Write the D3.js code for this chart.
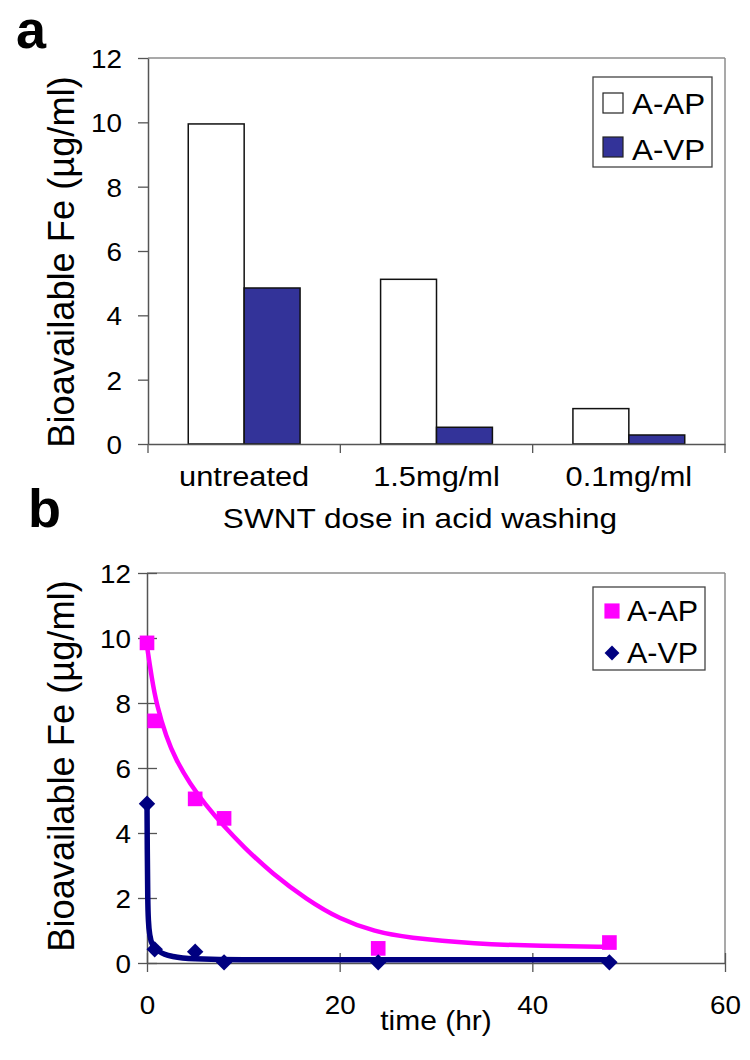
<!DOCTYPE html>
<html>
<head>
<meta charset="utf-8">
<script src="https://cdn.jsdelivr.net/npm/d3@7"></script>
<style>
  html, body { margin: 0; padding: 0; background: #fff; }
  svg { display: block; }
  text { font-family: "Liberation Sans", Arial, sans-serif; fill: #000; }
</style>
</head>
<body>
<svg id="chart" width="750" height="1060"></svg>
<script>
// ---------- DATA ----------
const categories = ["untreated", "1.5mg/ml", "0.1mg/ml"];
const seriesNames = ["A-AP", "A-VP"];
const barAP = [9.95, 5.12, 1.1];
const barVP = [4.85, 0.52, 0.28];
const yTicksA = [0, 2, 4, 6, 8, 10, 12];

const timeAP = [0, 0.8, 5, 8, 24, 48];
const valAP  = [9.85, 7.45, 5.05, 4.45, 0.45, 0.63];
const timeVP = [0, 0.8, 5, 8, 24, 48];
const valVP  = [4.9, 0.42, 0.35, 0.02, 0.02, 0.02];

// fitted trend lines
const trendTimeAP = [0, 0.5, 1, 2, 3, 4.5, 6, 8, 10, 13, 16.6, 20, 23.7, 27, 34, 41, 48];
const trendValAP  = [9.75, 8.75, 7.95, 6.95, 6.25, 5.5, 4.9, 4.2, 3.58, 2.75, 1.95, 1.35, 0.96, 0.78, 0.59, 0.52, 0.5];
const trendTimeVP = [0, 0.03, 0.08, 0.15, 0.3, 0.6, 1.3, 2.7, 5, 10, 48];
const trendValVP  = [4.9, 3.5, 2.0, 1.3, 0.85, 0.55, 0.35, 0.2, 0.13, 0.1, 0.1];

const xTicksB = [0, 20, 40, 60];
const yTicksB = [0, 2, 4, 6, 8, 10, 12];

const yLabel = "Bioavailable Fe (µg/ml)";
const xTitleA = "SWNT dose in acid washing";
const xTitleB = "time (hr)";

// ---------- STYLE ----------
const navyBar = "#333399";
const magenta = "#ff00ff";
const navy = "#000080";
const axisCol = "#555";
const frameCol = "#8c8c8c";
const FONT = '"Liberation Sans", Arial, sans-serif';

const svg = d3.select("#chart");
svg.append("rect").attr("width", 750).attr("height", 1060).attr("fill", "#fff");

function addText(g, x, y, str, size, sx, anchor, opts = {}) {
  const t = g.append("text")
    .attr("transform", `translate(${x},${y}) rotate(${opts.rotate || 0}) scale(${sx},1)`)
    .attr("text-anchor", anchor)
    .style("font-size", size + "px")
    .text(str);
  if (opts.bold) t.style("font-weight", "bold");
  return t;
}

function styleAxis(g, col) {
  g.select(".domain").attr("stroke", col).attr("stroke-width", 1.5);
  g.selectAll(".tick line").attr("stroke", col).attr("stroke-width", 1.3);
}

// ================= PANEL A =================
const ga = svg.append("g");
const xA = d3.scaleBand().domain(categories).range([148, 725]).paddingInner(0).paddingOuter(0);
const xSeries = d3.scaleBand().domain(seriesNames).range([0, xA.bandwidth()]).paddingInner(0).paddingOuter(0.72);
const yA = d3.scaleLinear().domain([0, 12]).range([444, 58]);

ga.append("line").attr("x1", xA.range()[0]).attr("x2", xA.range()[1]).attr("y1", yA(12)).attr("y2", yA(12))
  .attr("stroke", frameCol).attr("stroke-width", 1.5);
ga.append("line").attr("x1", xA.range()[1]).attr("x2", xA.range()[1]).attr("y1", yA(12)).attr("y2", yA(0))
  .attr("stroke", frameCol).attr("stroke-width", 1.5);

const barRows = categories.map((c, i) => ({ cat: c, vals: [barAP[i], barVP[i]] }));
barRows.forEach(row => {
  row.vals.forEach((v, j) => {
    ga.append("rect")
      .attr("x", xA(row.cat) + xSeries(seriesNames[j]))
      .attr("y", yA(v))
      .attr("width", xSeries.bandwidth())
      .attr("height", yA(0) - yA(v))
      .attr("fill", j === 0 ? "#fff" : navyBar)
      .attr("stroke", "#111")
      .attr("stroke-width", 1.5);
  });
});

const yAxisA = ga.append("g").attr("transform", `translate(${xA.range()[0]},0)`)
  .call(d3.axisLeft(yA).tickValues(yTicksA).tickSize(10).tickSizeOuter(0).tickFormat(d3.format("d")));
styleAxis(yAxisA, axisCol);
yAxisA.selectAll(".tick text")
  .attr("x", null).attr("dy", "0.36em")
  .attr("transform", "translate(-26,0) scale(1.05,1)")
  .style("font-size", "26.5px").style("font-family", FONT).attr("fill", "#000");

const xAxisA = ga.append("g").attr("transform", `translate(0,${yA(0)})`)
  .call(d3.axisBottom(xA).tickSize(0).tickSizeOuter(0).tickPadding(22));
styleAxis(xAxisA, axisCol);
xAxisA.selectAll(".tick text")
  .attr("transform", "scale(1.1,1)")
  .style("font-size", "28px").style("font-family", FONT).attr("fill", "#000");
const bounds = categories.map(c => xA(c)).concat([xA.range()[1]]);
bounds.forEach(b => {
  ga.append("line").attr("x1", b).attr("x2", b).attr("y1", yA(0)).attr("y2", yA(0) + 9)
    .attr("stroke", axisCol).attr("stroke-width", 1.3);
});

addText(ga, 420, 528, xTitleA, 27, 1.17, "middle");
addText(ga, 74, 262, yLabel, 37, 0.98, "middle", { rotate: -90 });
addText(ga, 16, 48, "a", 54, 1.0, "start", { bold: true });

const legA = ga.append("g");
legA.append("rect").attr("x", 593).attr("y", 77).attr("width", 119).attr("height", 90)
  .attr("fill", "#fff").attr("stroke", "#444").attr("stroke-width", 1.3);
seriesNames.forEach((s, j) => {
  legA.append("rect").attr("x", 603).attr("y", 93 + j * 44).attr("width", 20).attr("height", 20)
    .attr("fill", j === 0 ? "#fff" : navyBar).attr("stroke", "#222").attr("stroke-width", 1.2);
  addText(legA, 632, 114 + j * 46, s, 29, 1.08, "start");
});

// ================= PANEL B =================
const gb = svg.append("g");
const xB = d3.scaleLinear().domain([0, 60]).range([147, 725]);
const yB = d3.scaleLinear().domain([0, 12]).range([963, 573]);

gb.append("line").attr("x1", xB(0)).attr("x2", xB(60)).attr("y1", yB(12)).attr("y2", yB(12))
  .attr("stroke", frameCol).attr("stroke-width", 1.5);
gb.append("line").attr("x1", xB(60)).attr("x2", xB(60)).attr("y1", yB(12)).attr("y2", yB(0))
  .attr("stroke", frameCol).attr("stroke-width", 1.5);

const yAxisB = gb.append("g").attr("transform", `translate(${xB(0)},0)`)
  .call(d3.axisLeft(yB).tickValues(yTicksB).tickSize(9).tickSizeOuter(0).tickFormat(d3.format("d")));
styleAxis(yAxisB, axisCol);
yAxisB.selectAll(".tick line").attr("x1", 10).attr("x2", -9);
yAxisB.selectAll(".tick text")
  .attr("x", null).attr("dy", "0.36em")
  .attr("transform", "translate(-16,0) scale(1.05,1)")
  .style("font-size", "26.5px").style("font-family", FONT).attr("fill", "#000");

const xAxisB = gb.append("g").attr("transform", `translate(0,${yB(0)})`)
  .call(d3.axisBottom(xB).tickValues(xTicksB).tickSize(9).tickSizeOuter(0).tickFormat(d3.format("d")));
styleAxis(xAxisB, axisCol);
xAxisB.selectAll(".tick line").attr("y1", -10).attr("y2", 9);
xAxisB.selectAll(".tick text")
  .attr("y", 32).attr("transform", "scale(1.05,1)")
  .style("font-size", "26.5px").style("font-family", FONT).attr("fill", "#000");

const lineSmooth = d3.line().x(d => xB(d[0])).y(d => yB(d[1])).curve(d3.curveBasis);
const lineGen = d3.line().x(d => xB(d[0])).y(d => yB(d[1])).curve(d3.curveMonotoneX);
gb.append("path").datum(d3.zip(trendTimeAP, trendValAP)).attr("d", lineSmooth)
  .attr("fill", "none").attr("stroke", magenta).attr("stroke-width", 4.5);
gb.append("path").datum(d3.zip(trendTimeVP, trendValVP)).attr("d", lineGen)
  .attr("fill", "none").attr("stroke", navy).attr("stroke-width", 5.5);

const sq = d3.symbol().type(d3.symbolSquare).size(215);
const dm = d3.symbol().type(d3.symbolSquare).size(135);
d3.zip(timeAP, valAP).forEach(d => {
  gb.append("path").attr("d", sq).attr("transform", `translate(${xB(d[0])},${yB(d[1])})`).attr("fill", magenta);
});
d3.zip(timeVP, valVP).forEach(d => {
  gb.append("path").attr("d", dm).attr("transform", `translate(${xB(d[0])},${yB(d[1])}) rotate(45)`).attr("fill", navy);
});

addText(gb, 436, 1030, xTitleB, 27, 1.11, "middle");
addText(gb, 74, 766, yLabel, 37, 0.98, "middle", { rotate: -90 });
addText(gb, 28, 527, "b", 54, 1.0, "start", { bold: true });

const legB = gb.append("g");
legB.append("rect").attr("x", 593).attr("y", 587).attr("width", 112).attr("height", 83)
  .attr("fill", "#fff").attr("stroke", "#444").attr("stroke-width", 1.3);
legB.append("path").attr("d", d3.symbol().type(d3.symbolSquare).size(230)).attr("transform", "translate(612,611)").attr("fill", magenta);
legB.append("path").attr("d", d3.symbol().type(d3.symbolSquare).size(110)).attr("transform", "translate(612,653) rotate(45)").attr("fill", navy);
addText(legB, 627, 621, seriesNames[0], 29, 1.05, "start");
addText(legB, 627, 663, seriesNames[1], 29, 1.05, "start");
</script>
</body>
</html>
